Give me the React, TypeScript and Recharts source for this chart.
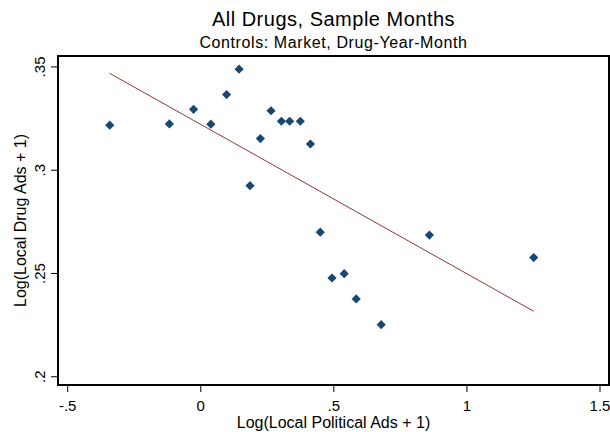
import React from 'react';
import { ScatterChart, Scatter, XAxis, YAxis, ReferenceArea, Label } from 'recharts';

const pointX = [-0.342, -0.118, -0.027, 0.038, 0.097, 0.144, 0.185, 0.224, 0.264, 0.303, 0.334, 0.374, 0.412, 0.449, 0.493, 0.539, 0.584, 0.678, 0.859, 1.251];
const pointY = [0.3218, 0.3224, 0.3295, 0.3223, 0.3366, 0.3489, 0.2925, 0.3153, 0.3288, 0.3237, 0.3237, 0.3237, 0.3127, 0.27, 0.2478, 0.2499, 0.2377, 0.2252, 0.2686, 0.2577];

// Fitted line endpoints
const fitX = [-0.342, 1.251];
const fitY = [0.3469, 0.2317];

const xTicks = [-0.5, 0, 0.5, 1, 1.5];
const xTickLabels = ['-.5', '0', '.5', '1', '1.5'];
const yTicks = [0.2, 0.25, 0.3, 0.35];
const yTickLabels = ['.2', '.25', '.3', '.35'];

const xDomain: [number, number] = [-0.5364, 1.5338];
const yDomain: [number, number] = [0.196, 0.3553];

const title = 'All Drugs, Sample Months';
const subtitle = 'Controls: Market, Drug-Year-Month';
const xTitle = 'Log(Local Political Ads + 1)';
const yTitle = 'Log(Local Drug Ads + 1)';

const FONT = '"Liberation Sans", Arial, sans-serif';
const NAVY = '#1a476f';
const MAROON = '#90353b';

const points = pointX.map((x, i) => ({ x, y: pointY[i] }));
const fit = fitX.map((x, i) => ({ x, y: fitY[i] }));

const Diamond = (props: any) => {
  const { cx, cy } = props;
  const r = 4.6;
  return (
    <polygon
      points={`${cx},${cy - r} ${cx + r},${cy} ${cx},${cy + r} ${cx - r},${cy}`}
      fill={NAVY}
    />
  );
};

const XTick = (props: any) => {
  const { x, y, payload } = props;
  const idx = xTicks.indexOf(payload.value);
  return (
    <text x={x} y={y + 19} textAnchor="middle" fontFamily={FONT} fontSize={15} fill="#000">
      {idx >= 0 ? xTickLabels[idx] : payload.value}
    </text>
  );
};

const YTick = (props: any) => {
  const { x, y, payload } = props;
  const idx = yTicks.indexOf(payload.value);
  const bx = x - 6;
  return (
    <text
      x={bx}
      y={y}
      transform={`rotate(-90 ${bx} ${y})`}
      textAnchor="middle"
      fontFamily={FONT}
      fontSize={15}
      fill="#000"
    >
      {idx >= 0 ? yTickLabels[idx] : payload.value}
    </text>
  );
};

export default function App() {
  return (
    <div style={{ position: 'absolute', left: 0, top: 0, width: 610, height: 432, background: '#fff' }}>
      <div
        style={{
          position: 'absolute', left: 0, width: 667, top: 9, textAlign: 'center',
          fontFamily: FONT, fontSize: 20, lineHeight: '20px', color: '#000', letterSpacing: 0.5,
        }}
      >
        {title}
      </div>
      <div
        style={{
          position: 'absolute', left: 0, width: 667, top: 35, textAlign: 'center',
          fontFamily: FONT, fontSize: 16, lineHeight: '16px', color: '#000', letterSpacing: 0.6,
        }}
      >
        {subtitle}
      </div>
      <ScatterChart
        width={610}
        height={432}
        margin={{ top: 56, right: 1, bottom: 0, left: 0 }}
        style={{ position: 'absolute', left: 0, top: 0 }}
      >
        <XAxis
          type="number"
          dataKey="x"
          domain={xDomain}
          ticks={xTicks}
          allowDataOverflow
          height={47}
          tickSize={7}
          tickMargin={0}
          axisLine={false}
          tickLine={{ stroke: '#000', strokeWidth: 1 }}
          tick={<XTick />}
          interval={0}
        >
          <Label
            content={(p: any) => {
              const vb = p.viewBox;
              return (
                <text x={vb.x + vb.width / 2} y={428} textAnchor="middle" fontFamily={FONT} fontSize={16} fill="#000">
                  {xTitle}
                </text>
              );
            }}
          />
        </XAxis>
        <YAxis
          type="number"
          dataKey="y"
          domain={yDomain}
          ticks={yTicks}
          allowDataOverflow
          width={58}
          tickSize={7}
          tickMargin={0}
          axisLine={false}
          tickLine={{ stroke: '#000', strokeWidth: 1 }}
          tick={<YTick />}
          interval={0}
        >
          <Label
            content={(p: any) => {
              const vb = p.viewBox;
              const cy = vb.y + vb.height / 2;
              return (
                <text
                  x={26}
                  y={cy}
                  transform={`rotate(-90 26 ${cy})`}
                  textAnchor="middle"
                  fontFamily={FONT}
                  fontSize={16}
                  fill="#000"
                >
                  {yTitle}
                </text>
              );
            }}
          />
        </YAxis>
        <ReferenceArea
          x1={xDomain[0]}
          x2={xDomain[1]}
          y1={yDomain[0]}
          y2={yDomain[1]}
          stroke="#000"
          strokeWidth={2}
          fill="#fff"
          fillOpacity={0}
          ifOverflow="visible"
        />
        <Scatter
          data={fit}
          line={{ stroke: MAROON, strokeWidth: 1 }}
          shape={() => <g />}
          isAnimationActive={false}
        />
        <Scatter data={points} shape={<Diamond />} isAnimationActive={false} />
      </ScatterChart>
    </div>
  );
}
